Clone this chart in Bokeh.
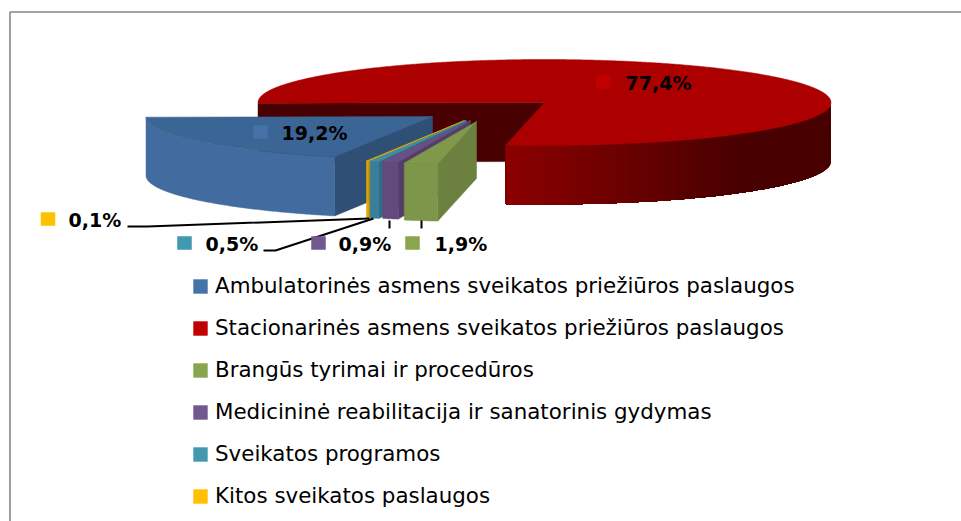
from bokeh.plotting import figure
from bokeh.models import Range1d, Legend, LegendItem
from bokeh.core.properties import value
from bokeh.embed import file_html
from bokeh.resources import INLINE
import numpy as np

# --- data
categories = [
    "Ambulatorinės asmens sveikatos priežiūros paslaugos",
    "Stacionarinės asmens sveikatos priežiūros paslaugos",
    "Brangūs tyrimai ir procedūros",
    "Medicininė reabilitacija ir sanatorinis gydymas",
    "Sveikatos programos",
    "Kitos sveikatos paslaugos",
]
shares = [19.2, 77.4, 1.9, 0.9, 0.5, 0.1]

# --- styles
key_colors = ["#4572A7", "#C00000", "#89A54E", "#71588F", "#4198AF", "#FFC000"]
top_colors = ["#3B6594", "#AC0000", "#7F9849", "#6A4F86", "#3F8CA6", "#F0B400"]
side_colors = ["#426C9F", "#8E0000", "#7E9649", "#634A7D", "#377F9C", "#E0A800"]
face_colors = ["#2F4F74", "#480000", "#6C8040", "#533E69", "#2F6C85", "#C09000"]

# --- layout (in reference pixels)
FIRST_ANGLE = 110.0      # where the first slice starts, clockwise from +x
RX, RY = 286.5, 43.0
depths = [59, 59, 57, 57, 57, 57]
CX, CY = 460.0, 110.0
explode_x = [-28, 84, 16, 10, 6, 4]
explode_y = [6, -8, 11, 10, 10, 10]
label_swatch_x = [260, 603, 412, 318, 184, 47.5]
label_swatch_y = [131.5, 81.5, 242.5, 242.5, 242.5, 218.5]
label_text_x = [281, 625, 434, 338, 205, 68]
label_text_y = [132, 82, 243, 243, 243, 219]

p = figure(width=961, height=521, output_backend="svg", toolbar_location=None,
           x_range=Range1d(0, 961), y_range=Range1d(521, 0),
           min_border=0, outline_line_color=None, background_fill_color="white")
p.axis.visible = False
p.grid.visible = False

# frame: only its top and left edges fall inside the picture
p.line([9.5, 9.5, 961], [521, 11.5, 11.5], line_color="#868686", line_width=1.6)


def arc(ax, ay, a0, a1, dy=0.0):
    t = np.radians(np.linspace(a0, a1, max(int(abs(a1 - a0) * 2), 2) + 1))
    return ax + RX * np.cos(t), ay + RY * np.sin(t) + dy


def mix(c0, c1, t):
    a = np.array([int(c0[i:i + 2], 16) for i in (1, 3, 5)], float)
    b = np.array([int(c1[i:i + 2], 16) for i in (1, 3, 5)], float)
    r = a + (b - a) * t
    return "#%02x%02x%02x" % tuple(int(round(v)) for v in r)


starts = FIRST_ANGLE + np.concatenate([[0], np.cumsum(shares)[:-1]]) * 3.6
ends = starts + np.array(shares) * 3.6

# the large red slice wraps behind all others, so it is drawn first
ax, ay = CX + explode_x[1], CY + explode_y[1]
a0, a1 = starts[1], ends[1]
d = depths[1]
x0 = ax + RX * np.cos(np.radians(a0))
y0 = ay + RY * np.sin(np.radians(a0))
p.patch([x0, ax, ax, x0], [y0, ay, ay + d, y0 + d],
        fill_color=face_colors[1], line_color=face_colors[1], line_width=0.5)
front0, front1 = 360.0, a1
xmin = ax + RX * np.cos(np.radians(front1))
# painted over each other from the right, so that no seams show between bands
for e0 in np.linspace(front0, front1, 40)[:-1]:
    xa, ya = arc(ax, ay, e0, front1)
    xb, yb = arc(ax, ay, front1, e0, d)
    t = min(max((ax + RX * np.cos(np.radians(e0)) - xmin) / 240.0, 0.0), 1.0)
    p.patch(np.r_[xa, xb], np.r_[ya, yb], fill_color=mix(side_colors[1], face_colors[1], t), line_color=None)
xa, ya = arc(ax, ay, a0, a1)
p.patch(np.r_[ax, xa], np.r_[ay, ya], fill_color=top_colors[1], line_color=top_colors[1], line_width=0.5)

# blue, then the thin slices from the far left one to the green one
for i in [0, 5, 4, 3, 2]:
    ax, ay = CX + explode_x[i], CY + explode_y[i]
    a0, a1 = starts[i], ends[i]
    d = depths[i]
    x0 = ax + RX * np.cos(np.radians(a0))
    y0 = ay + RY * np.sin(np.radians(a0))
    p.patch([x0, ax, ax, x0], [y0, ay, ay + d, y0 + d],
            fill_color=face_colors[i], line_color=face_colors[i], line_width=0.5)
    xa, ya = arc(ax, ay, a0, a1)
    xb, yb = arc(ax, ay, a1, a0, d)
    p.patch(np.r_[xa, xb], np.r_[ya, yb], fill_color=side_colors[i], line_color=side_colors[i], line_width=0.5)
    p.patch(np.r_[ax, xa], np.r_[ay, ya], fill_color=top_colors[i], line_color=top_colors[i], line_width=0.5)

# leader lines
leader_x = [[127, 147, 369], [263, 275, 373], [389, 389], [421, 421]]
leader_y = [[226, 226, 218], [250, 250, 218], [220, 228], [220, 228]]
p.multi_line(leader_x, leader_y, line_color="#000000", line_width=2)

# data labels with their keys
p.rect(label_swatch_x, label_swatch_y, width=14.5, height=13.5, fill_color=key_colors, line_color=None)
p.text(label_text_x, label_text_y, text=[f"{v:.1f}%".replace(".", ",") for v in shares],
       text_font=value("DejaVu Sans"), text_font_style="bold", text_font_size="19px",
       text_color="#000000", text_baseline="middle", text_align="left")

# legend
items = []
for name, col in zip(categories, key_colors):
    r = p.rect([float("nan")], [float("nan")], width=1, height=1, fill_color=col, line_color=None)
    items.append(LegendItem(label=name, renderers=[r]))
legend = Legend(items=items, location=(191, 13),
                orientation="vertical", border_line_color=None, background_fill_alpha=0,
                glyph_width=18, glyph_height=18, label_height=24, spacing=17, label_standoff=6,
                padding=0, margin=0, label_text_font="DejaVu Sans", label_text_font_size="21.4px",
                label_text_color="#000000")
p.add_layout(legend)

open("out.html", "w").write(file_html(p, INLINE))
